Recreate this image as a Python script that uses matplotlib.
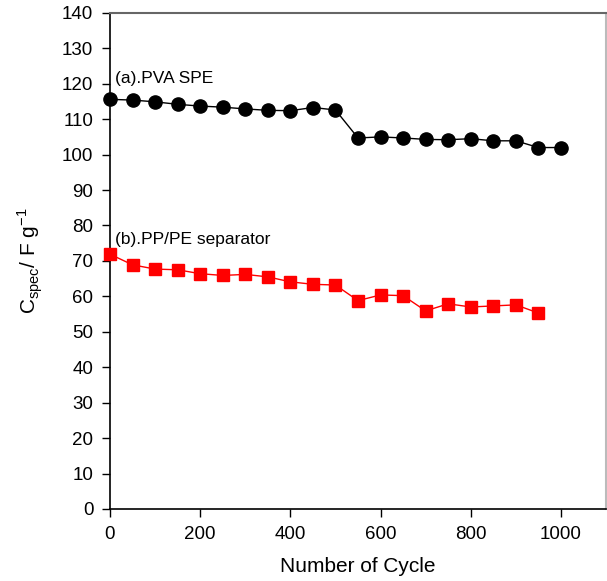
import matplotlib
matplotlib.use("Agg")
import matplotlib.pyplot as plt

plt.rcParams['font.family'] = ['Liberation Sans', 'DejaVu Sans']

# cycle numbers
cycles_a = [0, 50, 100, 150, 200, 250, 300, 350, 400, 450, 500,
            550, 600, 650, 700, 750, 800, 850, 900, 950, 1000]
cycles_b = cycles_a[:-1]

# specific capacitance, F/g
pva_spe = [115.6, 115.4, 114.9, 114.2, 113.7, 113.4, 112.9, 112.5, 112.4, 113.3, 112.6,
           104.7, 105.0, 104.7, 104.3, 104.2, 104.5, 103.9, 103.9, 102.0, 102.0]
pp_pe = [71.9, 68.9, 67.7, 67.5, 66.4, 65.9, 66.2, 65.5, 64.1, 63.4, 63.2,
         58.8, 60.4, 60.2, 55.9, 57.9, 57.0, 57.3, 57.6, 55.3]

fig = plt.figure(figsize=(6.07, 5.81), dpi=100)
ax = fig.add_axes([0.1812, 0.124, 0.8172, 0.8538])

ax.plot(cycles_a, pva_spe, color='black', lw=1.0, marker='o', ms=9.5,
        clip_on=False, zorder=3)
ax.plot(cycles_b, pp_pe, color='#ff0000', lw=1.0, marker='s', ms=8.5,
        clip_on=False, zorder=3)

ax.text(12, 121.5, '(a).PVA SPE', fontsize=12.5, va='center', ha='left')
ax.text(12, 76, '(b).PP/PE separator', fontsize=12.5, va='center', ha='left')

ax.set_xlim(0, 1100)
ax.set_ylim(0, 140)
ax.set_xticks([0, 200, 400, 600, 800, 1000])
ax.set_yticks(range(0, 141, 10))
ax.tick_params(direction='out', length=6, width=1, labelsize=13.5, pad=6,
               top=False, right=False)

ax.set_xlabel('Number of Cycle', fontsize=15, labelpad=10)
ax.set_ylabel(r'C$_{\mathregular{spec}}$/ F g$^{\mathregular{-1}}$', fontsize=15, labelpad=12)

ax.spines['left'].set_linewidth(1.2)
ax.spines['bottom'].set_linewidth(1.2)
ax.spines['top'].set_color('#666666')
ax.spines['top'].set_linewidth(1.5)
ax.spines['right'].set_color('#bbbbbb')
ax.spines['right'].set_linewidth(1.5)

fig.savefig('out.png', dpi=100)
